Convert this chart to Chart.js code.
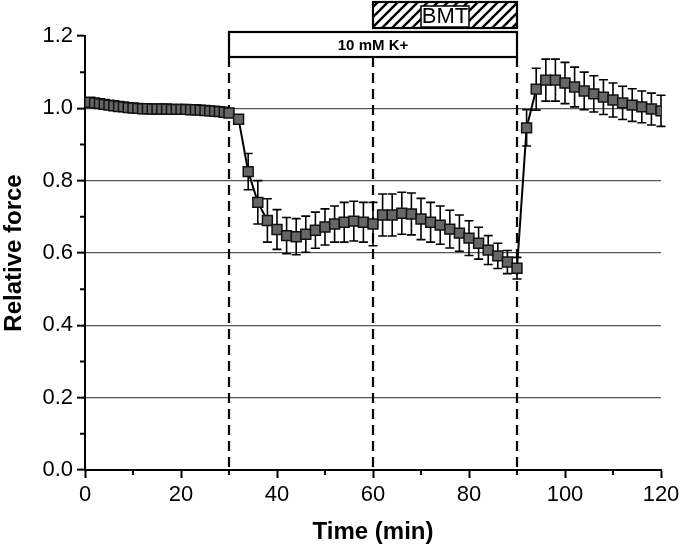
<!DOCTYPE html>
<html>
<head>
<meta charset="utf-8">
<script src="https://cdn.jsdelivr.net/npm/chart.js@4.4.1/dist/chart.umd.min.js"></script>
<style>
  html, body { margin: 0; padding: 0; background: #fff; }
  canvas { display: block; }
</style>
</head>
<body>
<canvas id="chart" width="681" height="551"></canvas>
<script>
// Time points (min)
const times = [
  1, 2, 3, 4, 5, 6, 7, 8, 9, 10, 11, 12, 13, 14, 15, 16, 17, 18, 19, 20,
  21, 22, 23, 24, 25, 26, 27, 28, 29, 30,
  32, 34, 36, 38, 40, 42, 44, 46, 48, 50, 52, 54, 56, 58, 60,
  62, 64, 66, 68, 70, 72, 74, 76, 78, 80, 82, 84, 86, 88, 90,
  92, 94, 96, 98, 100, 102, 104, 106, 108, 110, 112, 114, 116, 118, 120
];
// Relative force (mean)
const force = [
  1.017, 1.015, 1.013, 1.011, 1.009, 1.007, 1.005, 1.004, 1.002, 1.001,
  1.000, 0.999, 0.999, 0.998, 0.998, 0.998, 0.998, 0.997, 0.997, 0.997,
  0.997, 0.996, 0.996, 0.995, 0.994, 0.993, 0.992, 0.991, 0.989, 0.987,
  0.970, 0.825, 0.740, 0.690, 0.665, 0.648, 0.645, 0.652, 0.663, 0.672,
  0.680, 0.685, 0.688, 0.685, 0.680,
  0.705, 0.705, 0.710, 0.708, 0.694, 0.685, 0.677, 0.666, 0.655, 0.641,
  0.627, 0.608, 0.592, 0.575, 0.558,
  0.946, 1.053, 1.078, 1.078, 1.070, 1.059, 1.048, 1.040, 1.031, 1.023,
  1.015, 1.009, 1.004, 0.998, 0.993
];
// Error (SEM)
const sem = [
  0.006, 0.006, 0.006, 0.005, 0.005, 0.005, 0.005, 0.005, 0.005, 0.005,
  0.005, 0.005, 0.005, 0.005, 0.005, 0.005, 0.005, 0.005, 0.005, 0.005,
  0.005, 0.005, 0.006, 0.006, 0.006, 0.006, 0.007, 0.008, 0.009, 0.010,
  0.010, 0.050, 0.060, 0.060, 0.055, 0.050, 0.050, 0.050, 0.050, 0.050,
  0.050, 0.055, 0.055, 0.055, 0.060,
  0.058, 0.058, 0.058, 0.058, 0.057, 0.055, 0.053, 0.052, 0.050, 0.048,
  0.044, 0.040, 0.035, 0.032, 0.030,
  0.050, 0.058, 0.058, 0.058, 0.057, 0.055, 0.052, 0.050, 0.048, 0.047,
  0.046, 0.045, 0.044, 0.044, 0.043
];
const xMinorTicks = [10, 30, 50, 70, 90, 110];
const yMinorTicks = [0.1, 0.3, 0.5, 0.7, 0.9, 1.1];
const markLines = [30, 60, 90];
const kBar = { from: 30, to: 90, label: '10 mM K+' };
const bmtBar = { from: 60, to: 90, label: 'BMT' };

const FONT = "'Liberation Sans', Arial, sans-serif";

// error bars + dashed markers, under the squares
const underlay = {
  id: 'underlay',
  beforeDatasetsDraw(chart) {
    const { ctx, chartArea, scales: { x, y } } = chart;
    ctx.save();
    ctx.strokeStyle = '#000';
    ctx.lineWidth = 2.2;
    ctx.setLineDash([10, 6]);
    markLines.forEach(t => {
      const px = Math.round(x.getPixelForValue(t));
      ctx.beginPath();
      ctx.moveTo(px, chartArea.top + 21);
      ctx.lineTo(px, chartArea.bottom);
      ctx.stroke();
    });
    ctx.setLineDash([]);
    ctx.lineWidth = 1.6;
    times.forEach((t, i) => {
      const px = x.getPixelForValue(t);
      const hi = y.getPixelForValue(force[i] + sem[i]);
      const lo = y.getPixelForValue(force[i] - sem[i]);
      ctx.beginPath();
      ctx.moveTo(px, hi); ctx.lineTo(px, lo);
      ctx.moveTo(px - 4.5, hi); ctx.lineTo(px + 4.5, hi);
      ctx.moveTo(px - 4.5, lo); ctx.lineTo(px + 4.5, lo);
      ctx.stroke();
    });
    ctx.restore();
  }
};

// minor ticks and the treatment bars on top
const overlay = {
  id: 'overlay',
  afterDraw(chart) {
    const { ctx, chartArea, scales: { x, y } } = chart;
    ctx.save();
    ctx.strokeStyle = '#000';
    ctx.lineWidth = 2;
    ctx.beginPath();
    xMinorTicks.forEach(t => {
      const px = x.getPixelForValue(t);
      ctx.moveTo(px, chartArea.bottom); ctx.lineTo(px, chartArea.bottom + 5);
    });
    yMinorTicks.forEach(v => {
      const py = y.getPixelForValue(v);
      ctx.moveTo(chartArea.left, py); ctx.lineTo(chartArea.left - 5, py);
    });
    ctx.stroke();

    // 10 mM K+ box
    const kx1 = x.getPixelForValue(kBar.from), kx2 = x.getPixelForValue(kBar.to);
    const ky1 = chartArea.top - 4, ky2 = chartArea.top + 21;
    ctx.lineWidth = 2.2;
    ctx.fillStyle = '#fff';
    ctx.fillRect(kx1, ky1, kx2 - kx1, ky2 - ky1);
    ctx.strokeRect(kx1, ky1, kx2 - kx1, ky2 - ky1);
    ctx.fillStyle = '#000';
    ctx.font = 'bold 15px ' + FONT;
    ctx.textAlign = 'center';
    ctx.textBaseline = 'middle';
    ctx.fillText(kBar.label, (kx1 + kx2) / 2, (ky1 + ky2) / 2 + 1);

    // BMT hatched box
    const bx1 = x.getPixelForValue(bmtBar.from), bx2 = x.getPixelForValue(bmtBar.to);
    const by1 = 2, by2 = 28;
    const pc = document.createElement('canvas');
    pc.width = 10; pc.height = 10;
    const p = pc.getContext('2d');
    p.strokeStyle = '#000';
    p.lineWidth = 2.4;
    p.beginPath();
    p.moveTo(-2, 12); p.lineTo(12, -2);
    p.moveTo(-2, 2); p.lineTo(2, -2);
    p.moveTo(8, 12); p.lineTo(12, 8);
    p.stroke();
    ctx.fillStyle = '#fff';
    ctx.fillRect(bx1, by1, bx2 - bx1, by2 - by1);
    ctx.fillStyle = ctx.createPattern(pc, 'repeat');
    ctx.fillRect(bx1, by1, bx2 - bx1, by2 - by1);
    ctx.strokeRect(bx1, by1, bx2 - bx1, by2 - by1);
    const cx = (bx1 + bx2) / 2;
    ctx.fillStyle = '#fff';
    ctx.fillRect(cx - 24, by1 + 4, 48, by2 - by1 - 5);
    ctx.lineWidth = 1.5;
    ctx.strokeRect(cx - 24, by1 + 4, 48, by2 - by1 - 5);
    ctx.fillStyle = '#000';
    ctx.font = '22px ' + FONT;
    ctx.fillText(bmtBar.label, cx, (by1 + by2) / 2 + 2);
    ctx.restore();
  }
};

new Chart(document.getElementById('chart'), {
  type: 'line',
  data: {
    datasets: [{
      data: times.map((t, i) => ({ x: t, y: force[i] })),
      borderColor: '#000',
      borderWidth: 2,
      tension: 0,
      pointStyle: 'rect',
      pointRadius: 7,
      pointBackgroundColor: '#666',
      pointBorderColor: '#111',
      pointBorderWidth: 1.5
    }]
  },
  options: {
    responsive: false,
    animation: false,
    events: [],
    layout: { padding: { top: 36, right: 20 } },
    plugins: { legend: { display: false }, tooltip: { enabled: false } },
    scales: {
      x: {
        type: 'linear',
        min: 0, max: 120,
        afterFit: s => { s.height = 81; s.paddingLeft = 0; s.paddingRight = 0; },
        ticks: { stepSize: 20, color: '#000', padding: 4, font: { family: FONT, size: 22 } },
        grid: { drawOnChartArea: false, tickLength: 8, tickColor: '#000', tickWidth: 2 },
        border: { color: '#000', width: 2 },
        title: { display: true, text: 'Time (min)', color: '#000', padding: { bottom: 4 },
                 font: { family: FONT, size: 24, weight: 'bold' } }
      },
      y: {
        min: 0, max: 1.2,
        afterFit: s => { s.width = 85; },
        ticks: { stepSize: 0.2, color: '#000', padding: 4, font: { family: FONT, size: 22 },
                 callback: v => v.toFixed(1) },
        grid: {
          color: c => (c.tick && c.tick.value > 0.01 && c.tick.value < 1.19) ? '#555' : 'rgba(0,0,0,0)',
          lineWidth: 1.3, tickLength: 8, tickColor: '#000', tickWidth: 2
        },
        border: { color: '#000', width: 2 },
        title: { display: true, text: 'Relative force', color: '#000', padding: { top: 0 },
                 font: { family: FONT, size: 24, weight: 'bold' } }
      }
    }
  },
  plugins: [underlay, overlay]
});
</script>
</body>
</html>
